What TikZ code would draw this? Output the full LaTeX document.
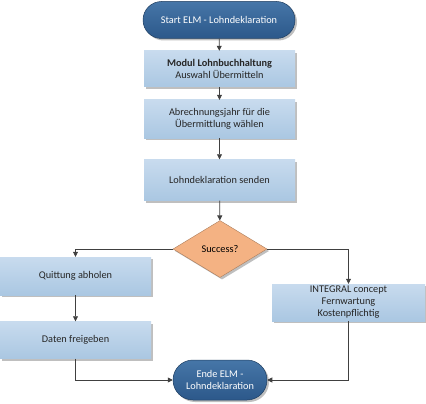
\documentclass[tikz,border=0pt]{standalone}
\usepackage{fontspec}
\setmainfont{Carlito}
\usetikzlibrary{shapes.geometric,shapes.misc,arrows.meta,shadows}
\definecolor{termtop}{RGB}{70,118,168}
\definecolor{termbot}{RGB}{44,88,138}
\definecolor{boxtop}{RGB}{200,219,238}
\definecolor{boxbot}{RGB}{170,199,226}
\definecolor{diafill}{RGB}{244,178,131}
\definecolor{linec}{RGB}{64,64,64}
\tikzset{
  x=1pt,y=-1pt,
  shad/.style={drop shadow={shadow xshift=2pt,shadow yshift=-2pt,fill=black,opacity=0.25}},
  term/.style={rounded rectangle, shad, draw=termbot!70!black, line width=0.5pt, top color=termtop, bottom color=termbot, text=white, font=\fontsize{10.3}{12}\selectfont, align=center, inner sep=0pt},
  stepbox/.style={rectangle, shad, draw=none, top color=boxtop, bottom color=boxbot, text=black!85, font=\fontsize{10.3}{12}\selectfont, align=center, inner sep=0pt},
  dec/.style={diamond, shad, draw=diafill!70!black, line width=0.4pt, fill=diafill, aspect=1.68, inner sep=0pt, minimum width=94pt, minimum height=57pt, font=\fontsize{10.3}{12}\selectfont},
  conn/.style={draw=linec, line width=0.7pt, -{Triangle[length=5pt,width=5pt]}}
}
\begin{document}
\begin{tikzpicture}
\useasboundingbox (0,0) rectangle (426,404);
\node[term, minimum width=152pt, minimum height=37pt] (start) at (219,20) {Start ELM - Lohndeklaration};
\node[stepbox, minimum width=151pt, minimum height=36pt] (modul) at (219.5,69) {\textbf{Modul Lohnbuchhaltung}\\Auswahl Übermitteln};
\node[stepbox, minimum width=151pt, minimum height=38pt] (jahr) at (219.5,119) {Abrechnungsjahr für die\\Übermittlung wählen};
\node[stepbox, minimum width=151pt, minimum height=41pt] (senden) at (219.5,180) {Lohndeklaration senden};
\node[dec] (succ) at (220,249) {Success?};
\node[stepbox, minimum width=151pt, minimum height=38pt] (quit) at (75.5,276) {Quittung abholen};
\node[stepbox, minimum width=151pt, minimum height=37pt] (daten) at (75.5,340) {Daten freigeben};
\node[stepbox, minimum width=153pt, minimum height=37pt] (integ) at (348.5,302.5) {INTEGRAL concept\\Fernwartung\\Kostenpflichtig};
\node[term, minimum width=94pt, minimum height=40pt] (ende) at (220,380) {Ende ELM -\\Lohndeklaration};
\draw[conn] (start) -- (modul);
\draw[conn] (modul) -- (jahr);
\draw[conn] (jahr) -- (senden);
\draw[conn] (senden) -- (succ);
\draw[conn] (succ.west) -| (quit.north);
\draw[conn] (succ.east) -| (integ.north);
\draw[conn] (quit) -- (daten);
\draw[conn] (daten.south) |- (ende.west);
\draw[conn] (integ.south) |- (ende.east);
\end{tikzpicture}
\end{document}
